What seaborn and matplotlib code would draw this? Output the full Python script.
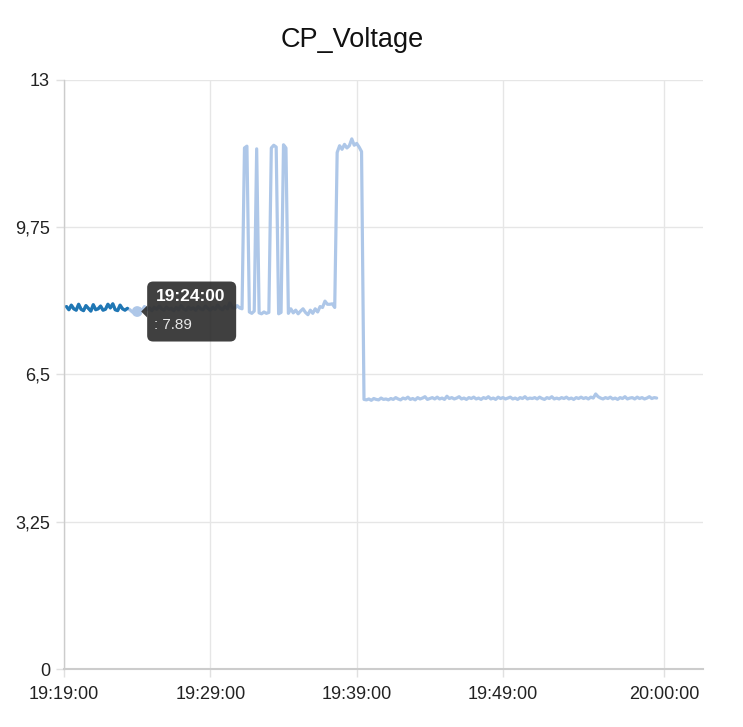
import numpy as np
import pandas as pd
import matplotlib
matplotlib.use("Agg")
import matplotlib.pyplot as plt
import matplotlib.dates as mdates
import matplotlib.transforms as mtransforms
from matplotlib.patches import FancyBboxPatch, Polygon
import seaborn as sns

# ---------------- data ----------------
title = "CP_Voltage"
start_time = "2024-01-01 19:19:10"
sample_seconds = 10

voltage = [
    # 19:19:10 - 19:23:20 (highlighted)
    8.00, 7.93, 8.03, 7.95, 7.92, 8.05, 7.94, 7.91, 8.02, 7.96,
    7.90, 8.04, 7.93, 7.95, 8.01, 7.92, 7.94, 8.05, 7.97, 8.06,
    7.93, 7.91, 8.03, 7.95, 7.92, 7.96,
    # 19:23:30 - 19:31:10
    7.93, 7.88, 7.86, 7.89, 7.95, 7.92, 8.00, 7.93, 7.97, 7.91,
    7.98, 7.94, 8.01, 7.95, 7.92, 7.99, 7.94, 7.96, 7.91, 7.98,
    7.93, 8.02, 7.95, 7.92, 7.99, 7.94, 7.97, 7.92, 8.00, 7.95,
    7.93, 8.01, 7.96, 7.92, 7.98, 7.94, 8.03, 7.96, 7.93, 8.00,
    7.95, 8.08, 7.98, 7.96, 8.02, 7.97, 7.95,
    # pulses 19:31:20 - 19:34:20
    11.50, 11.54,
    7.88, 7.85, 7.90,
    11.48,
    7.86, 7.84, 7.88, 7.85, 7.87,
    11.50, 11.56, 11.52,
    7.84, 7.87,
    11.57, 11.50,
    7.85,
    # 19:34:30 - 19:37:30
    7.95, 7.86, 7.92, 7.84, 7.90, 7.95, 7.87, 7.82, 7.92, 7.85,
    7.95, 7.88, 8.00, 7.98, 8.12, 8.05, 8.05, 8.06, 7.98,
    # plateau 19:37:40 - 19:39:20
    11.40, 11.55, 11.47, 11.58, 11.50, 11.55, 11.70, 11.56, 11.60, 11.52,
    11.42,
    # 19:39:30 - 19:59:30
    5.95, 5.94, 5.96, 5.93, 5.97, 5.95, 5.94, 5.98, 5.95, 5.96,
    5.94, 5.97, 5.95, 5.99, 5.96, 5.94, 5.98, 5.96, 6.00, 5.95,
    5.97, 5.94, 5.99, 5.96, 5.98, 6.01, 5.95, 5.97, 5.99, 5.96,
    6.00, 5.96, 5.98, 5.95, 6.02, 5.97, 5.99, 5.96, 5.98, 6.01,
    5.96, 5.98, 5.95, 5.99, 5.97, 6.00, 5.96, 5.98, 5.95, 5.99,
    5.97, 6.01, 5.96, 5.98, 5.95, 6.00, 5.97, 5.99, 5.96, 5.98,
    6.00, 5.96, 5.98, 5.95, 5.99, 5.97, 6.01, 5.96, 5.98, 5.97,
    5.99, 5.96, 6.00, 5.97, 5.95, 5.99, 5.97, 6.01, 5.96, 5.98,
    5.96, 5.99, 5.97, 6.00, 5.96, 5.98, 5.95, 5.99, 5.97, 6.00,
    5.97, 5.99, 5.96, 6.00, 5.98, 6.07, 6.01, 5.98, 5.96, 5.99,
    5.97, 6.00, 5.96, 5.98, 5.95, 5.99, 5.97, 6.01, 5.96, 5.98,
    5.99, 5.96, 6.00, 5.97, 5.99, 5.96, 5.98, 6.01, 5.97, 5.99,
    5.98,
]
highlight_count = 26          # samples drawn in the darker colour
hover_time = "2024-01-01 19:24:00"
hover_value = 7.89

x_ticks = ["2024-01-01 19:19:00", "2024-01-01 19:29:00", "2024-01-01 19:39:00",
           "2024-01-01 19:49:00", "2024-01-01 20:00:00"]
x_limits = ["2024-01-01 19:19:00", "2024-01-01 20:02:40"]
y_ticks = [0, 3.25, 6.5, 9.75, 13]
y_tick_labels = ["0", "3,25", "6,5", "9,75", "13"]

# ---------------- build frame ----------------
times = pd.date_range(start_time, periods=len(voltage), freq=f"{sample_seconds}s")
df = pd.DataFrame({"time": times, "voltage": voltage})

sns.set_theme(style="white")
plt.rcParams["font.family"] = ["Liberation Sans", "DejaVu Sans"]

W, H = 743, 727
fig = plt.figure(figsize=(W / 100, H / 100), dpi=100)
ax = fig.add_axes([64 / W, 58 / H, 639 / W, 589 / H])

light = "#aec7e8"
dark = "#1f77b4"
sns.lineplot(data=df, x="time", y="voltage", ax=ax, color=light, linewidth=2.3)
sns.lineplot(data=df.iloc[:highlight_count], x="time", y="voltage", ax=ax,
             color=dark, linewidth=2.3)

ax.set_xlim(pd.to_datetime(x_limits[0]), pd.to_datetime(x_limits[1]))
ax.set_ylim(0, 13)
ax.set_xticks(pd.to_datetime(x_ticks))
ax.xaxis.set_major_formatter(mdates.DateFormatter("%H:%M:%S"))
ax.set_yticks(y_ticks)
ax.set_yticklabels(y_tick_labels)
ax.set_xlabel("")
ax.set_ylabel("")

ax.grid(True, color="#e6e6e6", linewidth=1)
ax.set_axisbelow(True)
for s in ["top", "right"]:
    ax.spines[s].set_visible(False)
ax.spines["left"].set_color("#cccccc")
ax.spines["left"].set_linewidth(1)
ax.spines["bottom"].set_color("#cccccc")
ax.spines["bottom"].set_linewidth(1.5)
ax.tick_params(axis="both", which="both", length=6, width=1, color="#e0e0e0",
               labelsize=13, labelcolor="#222222")
ax.tick_params(axis="y", pad=4)
ax.tick_params(axis="x", pad=6)
ax.tick_params(axis="both", bottom=True, left=True)

# hover marker
hx = mdates.date2num(pd.to_datetime(hover_time))
ax.scatter([pd.to_datetime(hover_time)], [hover_value], s=60, color=light,
           zorder=5, edgecolors="none")

# tooltip (in display pixels, anchored to the hovered point)
fig.canvas.draw()
px, py = ax.transData.transform((hx, hover_value))
ident = mtransforms.IdentityTransform()
bx0, bw, bh = px + 10, 89, 60
by0 = py - bh / 2
box = FancyBboxPatch((bx0, by0), bw, bh,
                     boxstyle="round,pad=0,rounding_size=6",
                     transform=ident, facecolor="#2f2f2f", edgecolor="none",
                     alpha=0.92, zorder=10)
fig.patches.append(box)
arrow = Polygon([[bx0, py + 6], [bx0 - 6, py], [bx0, py - 6]], closed=True,
                transform=ident, facecolor="#2f2f2f", edgecolor="none",
                alpha=0.92, zorder=10)
fig.patches.append(arrow)
fig.text(bx0 + 9, by0 + bh - 15, pd.to_datetime(hover_time).strftime("%H:%M:%S"),
         transform=ident, color="white", fontsize=12.5, fontweight="bold",
         va="center", ha="left", zorder=11)
fig.text(bx0 + 7, by0 + 17, f": {hover_value}", transform=ident,
         color="#e8e8e8", fontsize=11, va="center", ha="left", zorder=11)

fig.text(352 / W, 1 - 40 / H, title, ha="center", va="center", fontsize=19.5,
         color="#111111")

fig.savefig("out.png", dpi=100)
